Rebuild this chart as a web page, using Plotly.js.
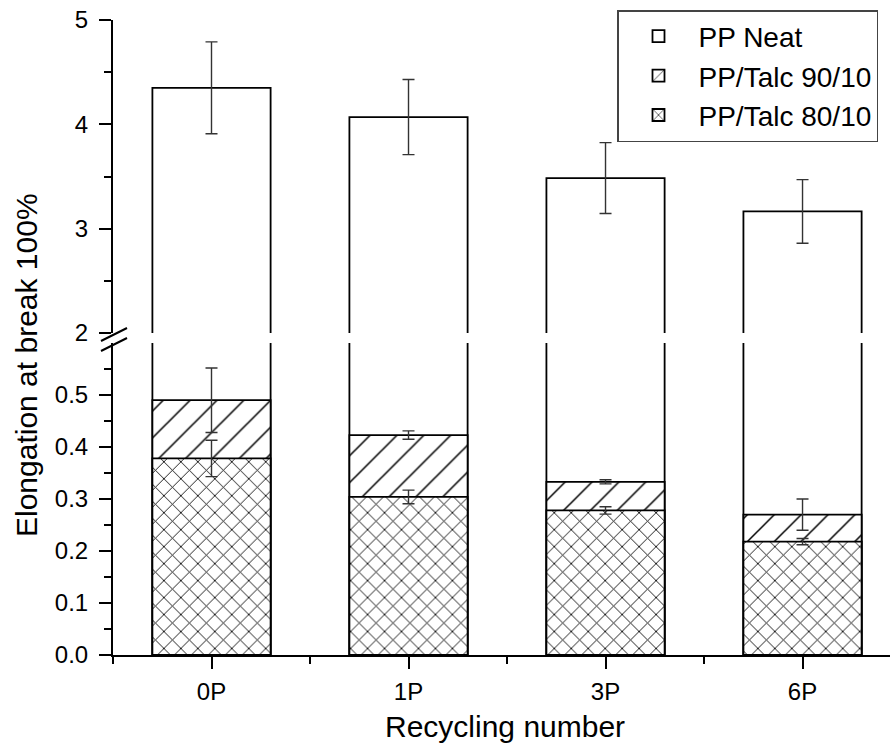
<!DOCTYPE html>
<html>
<head>
<meta charset="utf-8">
<script src="https://cdn.plot.ly/plotly-3.0.1.min.js"></script>
<style>html,body{margin:0;padding:0;background:#fff;}#chart{width:890px;height:751px;}</style>
</head>
<body>
<div id="chart"></div>
<script>
// ---- data ----
const categories = ['0P', '1P', '3P', '6P'];
const catIndex = [0, 1, 2, 3];
const neatValues = [4.35, 4.07, 3.485, 3.165];
const neatErrors = [0.44, 0.36, 0.34, 0.305];
const talc9010Values = [0.49, 0.423, 0.333, 0.27];
const talc9010Errors = [0.062, 0.008, 0.004, 0.03];
const talc8010Values = [0.378, 0.304, 0.278, 0.218];
const talc8010Errors = [0.035, 0.013, 0.007, 0.006];
const seriesNames = ['PP Neat', 'PP/Talc 90/10', 'PP/Talc 80/10'];
const lowerTicks = [0, 0.1, 0.2, 0.3, 0.4, 0.5];
const lowerMinor = [0.05, 0.15, 0.25, 0.35, 0.45, 0.55];
const upperTicks = [2, 3, 4, 5];
const upperMinor = [2.5, 3.5, 4.5];
const xTitle = 'Recycling number';
const yTitle = 'Elongation at break 100%';

// ---- styles ----
const FONT = 'Liberation Sans, Arial, sans-serif';
const barLine = {color: '#000', width: 1.8};
const errStyle = {color: '#333', thickness: 1.4, width: 6};
const W = 0.6;

const traces = [
  { // PP Neat, upper panel (shown in legend)
    type: 'bar', x: catIndex, y: neatValues, name: seriesNames[0], yaxis: 'y2', xaxis: 'x',
    width: W, marker: {color: '#fff', line: barLine},
    error_y: Object.assign({type: 'data', array: neatErrors, visible: true}, errStyle),
    legendrank: 1
  },
  { // PP Neat, lower panel (continuation of the same bars)
    type: 'bar', x: catIndex, y: neatValues, name: seriesNames[0], yaxis: 'y', xaxis: 'x',
    width: W, marker: {color: '#fff', line: barLine}, showlegend: false
  },
  {
    type: 'bar', x: catIndex, y: talc9010Values, name: seriesNames[1], yaxis: 'y', xaxis: 'x',
    width: W,
    marker: {color: '#fff', line: barLine,
      pattern: {shape: '/', size: 19, solidity: 0.08, fgcolor: '#000', fgopacity: 1, bgcolor: '#fff', fillmode: 'replace'}},
    error_y: Object.assign({type: 'data', array: talc9010Errors, visible: true}, errStyle),
    legendrank: 2
  },
  {
    type: 'bar', x: catIndex, y: talc8010Values, name: seriesNames[2], yaxis: 'y', xaxis: 'x',
    width: W,
    marker: {color: '#fff', line: barLine,
      pattern: {shape: 'x', size: 12, solidity: 0.14, fgcolor: '#000', fgopacity: 1, bgcolor: '#fff', fillmode: 'replace'}},
    error_y: Object.assign({type: 'data', array: talc8010Errors, visible: true}, errStyle),
    legendrank: 3
  }
];

// plot area: left 113px, right edge 890px, top 20px, bottom 655px
const L = 113, T = 20, B = 655, H = 751, Wd = 890;
const plotH = B - T;
const py = p => (B - p) / plotH;      // pixel y -> paper y
const px = p => (p - L) / (Wd - L);   // pixel x -> paper x

const axisCommon = {
  showline: true, linecolor: '#000', linewidth: 2, ticks: 'outside', tickcolor: '#000',
  tickwidth: 2, ticklen: 12, showgrid: false, zeroline: false, fixedrange: true,
  tickfont: {family: FONT, size: 24, color: '#000'}
};

const layout = {
  width: Wd, height: H,
  margin: {l: L, r: 0, t: T, b: H - B, pad: 0},
  paper_bgcolor: '#fff', plot_bgcolor: 'rgba(0,0,0,0)',
  barmode: 'overlay',
  showlegend: true,
  font: {family: FONT, color: '#000'},
  legend: {
    x: px(617), y: py(10), xanchor: 'left', yanchor: 'top',
    bgcolor: '#fff', bordercolor: '#444', borderwidth: 1.5,
    font: {family: FONT, size: 28, color: '#000'},
    traceorder: 'normal', itemwidth: 70, tracegroupgap: 0
  },
  xaxis: Object.assign({}, axisCommon, {
    range: [-0.5, 3.444], anchor: 'y',
    tickmode: 'array', tickvals: catIndex, ticktext: categories,
    ticklabelstandoff: 2,
    minor: {tickmode: 'linear', tick0: -0.5, dtick: 1, ticklen: 7, tickwidth: 2, tickcolor: '#000', ticks: 'outside'}
  }),
  yaxis: Object.assign({}, axisCommon, {
    domain: [0, py(343)], range: [0, 0.6], anchor: 'x',
    tickmode: 'array', tickvals: lowerTicks, tickformat: '.1f', ticklabelstandoff: 6,
    minor: {tickmode: 'array', tickvals: lowerMinor, ticklen: 7, tickwidth: 2, tickcolor: '#000', ticks: 'outside'}
  }),
  yaxis2: Object.assign({}, axisCommon, {
    domain: [py(333), 1], range: [2, 5], anchor: 'x',
    tickmode: 'array', tickvals: upperTicks, ticklabelstandoff: 6,
    minor: {tickmode: 'array', tickvals: upperMinor, ticklen: 7, tickwidth: 2, tickcolor: '#000', ticks: 'outside'}
  }),
  annotations: [
    {text: yTitle, xref: 'paper', yref: 'paper', x: px(27), y: py(365), textangle: -90,
     showarrow: false, xanchor: 'center', yanchor: 'middle', font: {family: FONT, size: 30, color: '#000'}},
    {text: xTitle, xref: 'paper', yref: 'paper', x: px(505), y: py(726),
     showarrow: false, xanchor: 'center', yanchor: 'middle', font: {family: FONT, size: 30, color: '#000'}}
  ],
  shapes: [
    {type: 'line', xref: 'paper', yref: 'paper', x0: px(101), y0: py(341), x1: px(127), y1: py(328), line: {color: '#000', width: 2}},
    {type: 'line', xref: 'paper', yref: 'paper', x0: px(101), y0: py(351), x1: px(127), y1: py(338), line: {color: '#000', width: 2}}
  ]
};

Plotly.newPlot('chart', traces, layout, {displayModeBar: false, staticPlot: true});
</script>
</body>
</html>
